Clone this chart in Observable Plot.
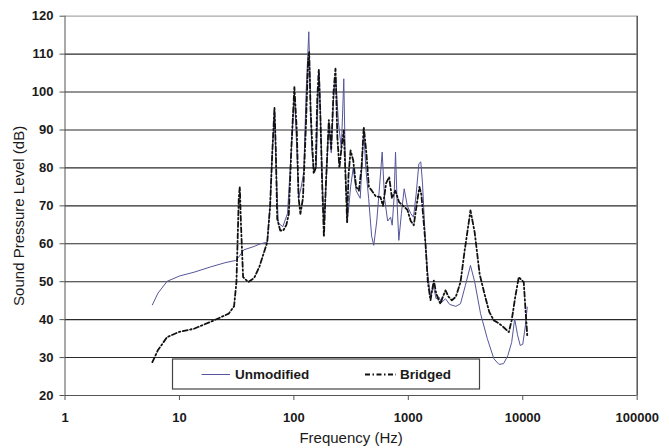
<!DOCTYPE html>
<html>
<head>
<meta charset="utf-8">
<script src="https://cdn.jsdelivr.net/npm/d3@7"></script>
<script src="https://cdn.jsdelivr.net/npm/@observablehq/plot@0.6"></script>
<style>
  html, body { margin: 0; padding: 0; background: #fff; }
  #chart { width: 669px; height: 448px; }
</style>
</head>
<body>
<div id="chart"></div>
<script>
// ---- Data ----
const xTicks = [1, 10, 100, 1000, 10000, 100000];
const yTicks = [20, 30, 40, 50, 60, 70, 80, 90, 100, 110, 120];
const gridDark = [30, 40, 50, 60, 70, 80, 90, 100, 110];
const seriesNames = ["Unmodified", "Bridged"];

const unmodFreq = [5.8, 6.5, 7.8, 10, 13.4, 18.7, 25, 30.9, 33, 36.5, 45, 51, 58.5, 62, 64.7, 67.7, 70, 73, 80, 88, 95, 101, 106, 110, 116, 122, 128, 135, 138, 143, 150, 157, 163, 167, 172, 178, 184, 192, 202, 212, 222, 232, 245, 260, 273, 282, 292, 300, 313, 330, 350, 380, 408, 425, 450, 478, 499, 530, 560, 591, 620, 660, 700, 723, 750, 773, 800, 826, 870, 920, 980, 1050, 1110, 1170, 1236, 1285, 1330, 1413, 1480, 1563, 1650, 1750, 1850, 1950, 2113, 2300, 2600, 2858, 3150, 3493, 3800, 4276, 4900, 5588, 6200, 6800, 7400, 8000, 8500, 9000, 9500, 10000, 10500, 10950];
const unmodDb = [43.9, 47, 50.1, 51.5, 52.5, 53.9, 55, 55.6, 56.5, 58.4, 59.3, 60, 60.4, 70, 84, 95.5, 80, 65.5, 64.5, 68, 85, 100, 85, 72, 75, 79, 100, 115.9, 105, 85, 79, 80, 100, 105, 90, 75, 65, 77, 92, 84, 98, 104, 92, 85, 103.5, 80, 65.7, 68.8, 75, 80, 74, 72, 90, 80, 72, 62, 59.6, 66, 75, 84.2, 72, 66, 67, 64.9, 72, 84.2, 70, 60.9, 68, 74.5, 70, 68, 67, 73, 81.1, 81.6, 76, 60, 52, 46, 49, 45.5, 46, 44.5, 45.5, 44, 43.5, 44.2, 49, 54.3, 50, 41.6, 35, 29.7, 28.2, 28.4, 30.5, 34, 40.2, 36, 33.2, 33.5, 38, 43.3];

const bridgedFreq = [5.8, 6.5, 7.8, 10, 13.4, 20, 27, 30, 31.5, 33, 33.7, 34.5, 36, 40, 45, 50, 58.5, 62, 64.7, 67.7, 69.5, 71.5, 76, 80.7, 86, 90.3, 95, 101, 106, 110, 114, 120, 127, 133, 136, 140, 149, 155, 160, 165, 170, 177, 183, 190, 202, 212, 222, 231, 240, 250, 260, 273, 285, 292, 300, 313, 330, 350, 370, 390, 408, 430, 452, 480, 520, 571, 600, 640, 680, 720, 770, 830, 900, 980, 1050, 1116, 1180, 1250, 1300, 1360, 1413, 1480, 1563, 1620, 1671, 1750, 1850, 1910, 2000, 2113, 2250, 2400, 2600, 2858, 3100, 3493, 3800, 4200, 4700, 5100, 5588, 6200, 6800, 7552, 8000, 8600, 9230, 10200, 10600, 10950];
const bridgedDb = [28.8, 32, 35.4, 36.8, 37.6, 39.8, 41.6, 43.5, 50, 72, 75, 65, 51.2, 49.9, 51, 54, 60.4, 70, 83.8, 95.9, 85, 66.6, 63.5, 63.5, 65, 67.9, 85, 101.3, 90, 72, 67.9, 72, 90, 108, 110.5, 95, 78.5, 80, 98, 106, 95, 75, 61.8, 75, 92.6, 85, 100, 106.2, 88, 80, 85, 89.9, 75, 65.7, 78, 84.6, 82, 75, 74, 80, 90.8, 84, 75, 74, 72.5, 72.3, 70, 76, 77.6, 72, 74, 71, 70, 69, 66, 64.9, 70, 75, 73, 66, 60, 50, 45.1, 48, 50.3, 47, 45, 44.2, 46, 47.7, 46, 45.1, 46, 49.9, 58, 68.8, 63, 52, 46, 42, 39.8, 39, 38, 36.7, 39.8, 46, 51.2, 49.9, 42, 35.8];

const unmodRows = unmodFreq.map((f, i) => ({f, db: unmodDb[i]}));
const bridgedRows = bridgedFreq.map((f, i) => ({f, db: bridgedDb[i]}));

const blue = "#56569c";
const black = "#111111";
const dash = "5,2.5,1.5,2.5";

const plot = Plot.plot({
  width: 669,
  height: 448,
  marginLeft: 64.5,
  marginRight: 32.3,
  marginTop: 15.7,
  marginBottom: 53,
  style: {fontFamily: "'Liberation Sans', Arial, sans-serif", fontSize: "13px", fontWeight: "bold", color: "#1a1a1a", background: "#fff"},
  x: {type: "log", domain: [1, 100000]},
  y: {domain: [20, 120]},
  marks: [
    Plot.ruleY(gridDark, {stroke: "#2a2a2a", strokeWidth: 1.1}),
    Plot.ruleY([120], {stroke: "#a8a8a8", strokeWidth: 1.3}),
    Plot.ruleX([1], {stroke: "#555", strokeWidth: 1}),
    Plot.ruleX([100000], {stroke: "#555", strokeWidth: 1.5}),
    Plot.ruleY([20], {stroke: "#555", strokeWidth: 1}),
    Plot.line(unmodRows, {x: "f", y: "db", stroke: blue, strokeWidth: 1}),
    Plot.line(bridgedRows, {x: "f", y: "db", stroke: black, strokeWidth: 1.8, strokeDasharray: dash}),
    Plot.axisX({ticks: xTicks, tickFormat: d => String(d), tickSize: 5, tickPadding: 12, label: null, stroke: "#555"}),
    Plot.axisY({ticks: yTicks, tickSize: 5, tickPadding: 6.5, label: null, stroke: "#555"}),
    Plot.text(["Frequency (Hz)"], {frameAnchor: "bottom", textAnchor: "middle", lineAnchor: "middle", dy: 43, fontSize: 15, fontWeight: "normal", fill: "#1a1a1a"}),
    Plot.text(["Sound Pressure Level (dB)"], {frameAnchor: "left", textAnchor: "middle", lineAnchor: "middle", dx: -45.5, dy: 10, rotate: -90, fontSize: 15, fontWeight: "normal", fill: "#1a1a1a"})
  ]
});

// ---- Legend inside the plot area (as in the reference) ----
const svg = d3.select(plot);
const lg = svg.append("g").attr("aria-label", "legend");
lg.append("rect").attr("x", 172.5).attr("y", 359).attr("width", 307).attr("height", 30)
  .attr("fill", "#fff").attr("stroke", "#444").attr("stroke-width", 1.2);
const items = [
  {name: seriesNames[0], x0: 201.5, x1: 230, tx: 235, stroke: blue, w: 1, dash: null},
  {name: seriesNames[1], x0: 365, x1: 396, tx: 400, stroke: black, w: 1.8, dash: dash}
];
for (const it of items) {
  const ln = lg.append("line").attr("x1", it.x0).attr("x2", it.x1).attr("y1", 374.5).attr("y2", 374.5)
    .attr("stroke", it.stroke).attr("stroke-width", it.w);
  if (it.dash) ln.attr("stroke-dasharray", it.dash);
  lg.append("text").attr("x", it.tx).attr("y", 374.5).attr("dy", "0.35em")
    .attr("text-anchor", "start")
    .attr("font-size", 13.5).attr("font-weight", "bold").attr("fill", "#1a1a1a").text(it.name);
}

document.getElementById("chart").appendChild(plot);
</script>
</body>
</html>
